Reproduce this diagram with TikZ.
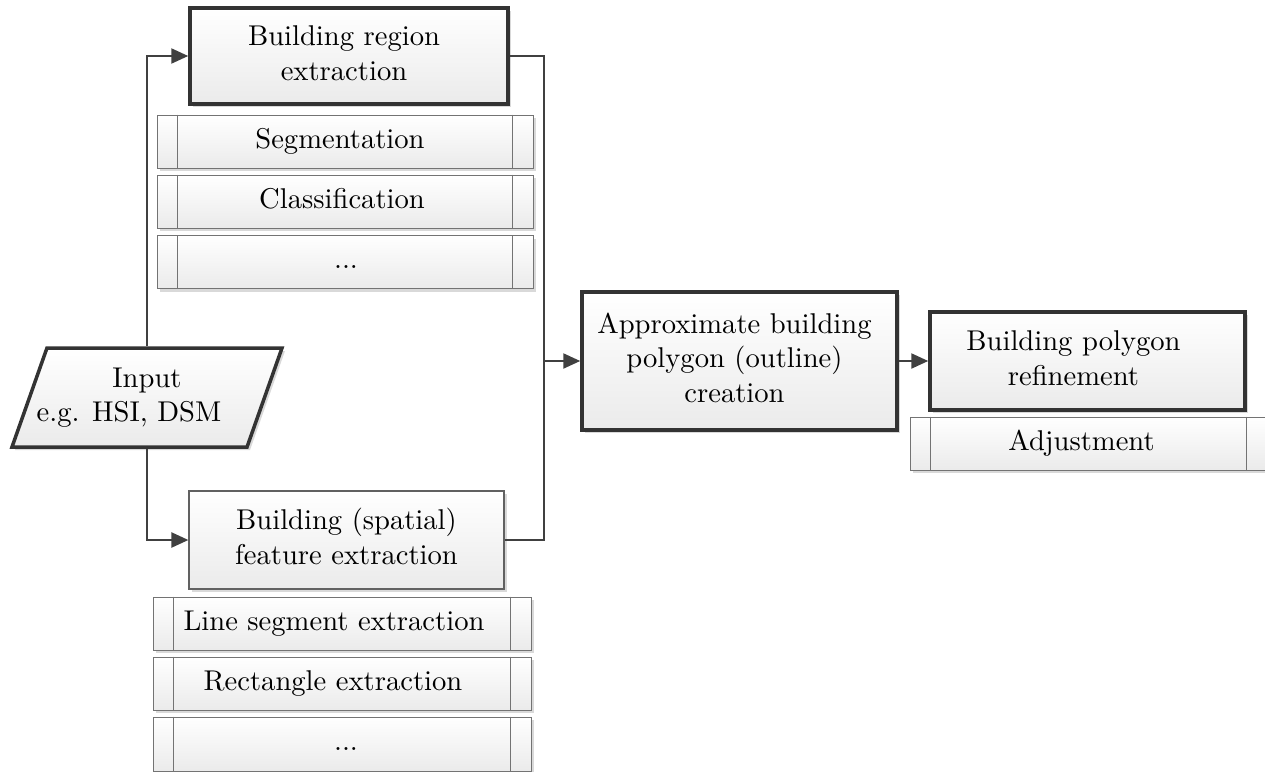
\documentclass[tikz,border=0pt]{standalone}
\usepackage{graphicx}
\usetikzlibrary{shapes.geometric,arrows.meta,shadows}
\newcommand\T[2][0pt]{\hspace*{#1}\raisebox{-2pt}{\scalebox{2.86}{\fontsize{10}{12}\selectfont\begin{tabular}{@{}c@{}}#2\end{tabular}}}\hspace*{-#1}}
\begin{document}
\begin{tikzpicture}[x=1pt,y=-1pt,
  base/.style={rectangle, top color=white, bottom color=black!8, align=center, inner sep=0pt,
    general shadow={fill=black!15, shadow xshift=3pt, shadow yshift=-3pt}},
  thickbox/.style={base, draw=black!80, line width=3.5pt},
  thinbox/.style={base, draw=black!62, line width=1.2pt},
  subbox/.style={base, draw=black!55, line width=1pt},
  subline/.style={draw=black!55, line width=1pt},
  conn/.style={draw=black!75, line width=2.3pt},
  arr/.style={conn, -{Triangle[length=17pt,width=15pt]}}
]
\useasboundingbox (0,0) rectangle (1265,771);

% top branch
\node[thickbox, minimum width=318pt, minimum height=96pt] (top) at (349,56) {\T[-5pt]{Building region\\extraction}};
\node[subbox, minimum width=376pt, minimum height=53pt] (s1) at (345,141.5) {\T[-5pt]{Segmentation}};
\node[subbox, minimum width=376pt, minimum height=53pt] (s2) at (345,201.5) {\T[-3pt]{Classification}};
\node[subbox, minimum width=376pt, minimum height=53pt] (s3) at (345,262) {\T[1pt]{...}};

% input
\node[trapezium, trapezium left angle=63, trapezium right angle=117, trapezium stretches body,
  minimum width=270pt, minimum height=99pt, draw=black!80, line width=3.5pt,
  top color=white, bottom color=black!8, align=center, inner sep=0pt,
  general shadow={fill=black!15, shadow xshift=3pt, shadow yshift=-3pt}] (inp) at (147,397.5) {\T{Input\\\hspace*{-12.6pt}e.g. HSI, DSM}};

% bottom branch
\node[thinbox, minimum width=315pt, minimum height=98pt] (bot) at (346.5,540) {\T{Building (spatial)\\feature extraction}};
\node[subbox, minimum width=378pt, minimum height=53pt] (t1) at (342,623.5) {\T[-8pt]{Line segment extraction}};
\node[subbox, minimum width=378pt, minimum height=53pt] (t2) at (342,683.5) {\T[-9pt]{Rectangle extraction}};
\node[subbox, minimum width=378pt, minimum height=54pt] (t3) at (342,744) {\T[4pt]{...}};

% right part
\node[thickbox, minimum width=315pt, minimum height=138pt] (approx) at (739.5,361) {\T[-5pt]{Approximate building\\polygon (outline)\\creation}};
\node[thickbox, minimum width=315pt, minimum height=98pt] (ref) at (1087.5,361) {\T[-14pt]{Building polygon\\refinement}};
\node[subbox, minimum width=355pt, minimum height=53pt] (adj) at (1087.5,443.5) {\T[-6pt]{Adjustment}};

% subprocess inner lines
\foreach \n in {s1,s2,s3,t1,t2,t3}{
  \draw[subline] ([xshift=21pt]\n.north west) -- ([xshift=21pt]\n.south west);
  \draw[subline] ([xshift=-21pt]\n.north east) -- ([xshift=-21pt]\n.south east);
}
\draw[subline] ([xshift=21pt]adj.north west) -- ([xshift=21pt]adj.south west);
\draw[subline] ([xshift=-19pt]adj.north east) -- ([xshift=-19pt]adj.south east);

% connectors
\coordinate (j) at (544,361);
\draw[arr] (inp.north) |- (top.west);
\draw[arr] (inp.south) |- (bot.west);
\draw[conn] (top.east) -| (j);
\draw[conn] (bot.east) -| (j);
\draw[arr] (j) -- (approx.west);
\draw[arr] (approx.east) -- (ref.west);
\end{tikzpicture}
\end{document}
